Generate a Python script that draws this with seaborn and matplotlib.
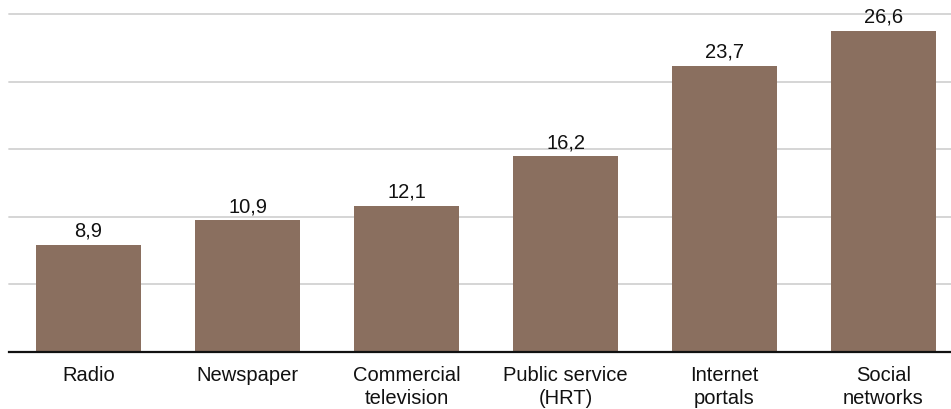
import matplotlib
matplotlib.use("Agg")
import matplotlib.pyplot as plt
import seaborn as sns
import pandas as pd
import numpy as np

categories = ["Radio", "Newspaper", "Commercial\ntelevision", "Public service\n(HRT)", "Internet\nportals", "Social\nnetworks"]
values = [8.9, 10.9, 12.1, 16.2, 23.7, 26.6]
value_labels = ["8,9", "10,9", "12,1", "16,2", "23,7", "26,6"]
grid_ticks = [0, 5.6, 11.2, 16.8, 22.4, 28.0]

sns.set_theme(style="white")
plt.rcParams['font.family'] = ['Liberation Sans', 'DejaVu Sans']

df = pd.DataFrame({"cat": categories, "val": values})

fig = plt.figure(figsize=(9.51, 4.09), dpi=100)
ax = fig.add_axes([9/951, 1 - 352/409, 1 - 9/951, (352 - 14)/409])

sns.barplot(data=df, x="cat", y="val", color="#8a6f5f", saturation=1, width=0.66,
            edgecolor="none", linewidth=0, ax=ax, zorder=3)

ax.set_ylim(0, 28)
ax.set_xlim(-0.5, 5.5 - 12/159)
ax.set_yticks(grid_ticks)
ax.set_yticklabels([])
ax.yaxis.grid(True, color="#d2d2d2", linewidth=1.3, zorder=0)
for gl in ax.get_ygridlines():
    gl.set_clip_on(False)
ax.tick_params(axis="y", length=0)
ax.tick_params(axis="x", length=0, labelsize=14.5, colors="#111111", pad=10)
for t in ax.get_xticklabels():
    t.set_linespacing(1.3)
ax.set_xlabel("")
ax.set_ylabel("")
for s in ["top", "right", "left"]:
    ax.spines[s].set_visible(False)
ax.spines["bottom"].set_color("#111111")
ax.spines["bottom"].set_linewidth(1.6)
ax.spines["bottom"].set_zorder(5)

for i, (v, lab) in enumerate(zip(values, value_labels)):
    ax.annotate(lab, (i, v), xytext=(0, 3), textcoords="offset points",
                ha="center", va="bottom", fontsize=14.5, color="#111111", clip_on=False, zorder=6)

fig.savefig("out.png", dpi=100)
